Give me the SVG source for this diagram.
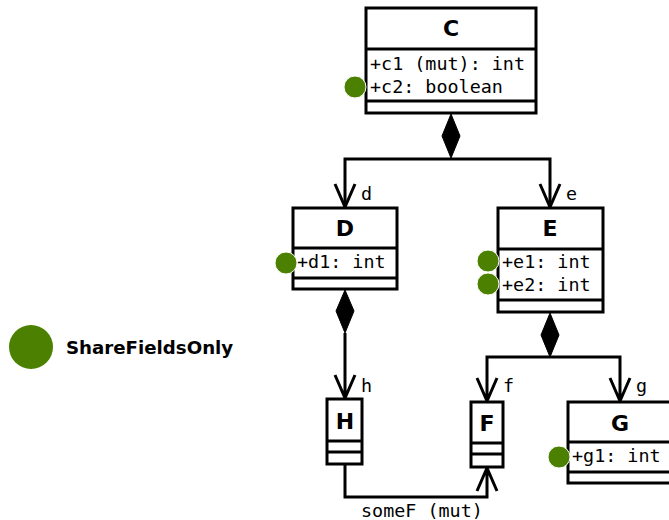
<svg xmlns="http://www.w3.org/2000/svg" width="669" height="520" viewBox="0 0 669 520">
<style>
.box{fill:#fff;stroke:#000;stroke-width:3}
.ln{fill:none;stroke:#000;stroke-width:3}
.dia{fill:#000;stroke:#000;stroke-width:1}
.nm{font-family:"DejaVu Sans",sans-serif;font-weight:bold;font-size:22px;text-anchor:middle}
.at{font-family:"DejaVu Sans Mono",monospace;font-size:18.4px}
.lb{font-family:"DejaVu Sans Mono",monospace;font-size:18.4px}
.dot{fill:#4b8000;stroke:#fff;stroke-width:1}
.leg{font-family:"DejaVu Sans",sans-serif;font-weight:bold;font-size:18.2px}
</style>
<rect width="669" height="520" fill="#fff"/>
<g id="connectors">
  <path class="dia" d="M451,114 L460,136 L451,158 L442,136 Z"/>
  <path class="ln" d="M451,158 V159 H345 V207 M451,159 H550 V207"/>
  <path class="ln" d="M335,184 L345,207 L355,184 M540,184 L550,207 L560,184"/>
  <text class="lb" x="361" y="200">d</text>
  <text class="lb" x="566" y="200">e</text>
  <path class="dia" d="M345,290 L354,311 L345,333 L336,311 Z"/>
  <path class="ln" d="M345,333 V398 M335,375 L345,398 L355,375"/>
  <text class="lb" x="361" y="392">h</text>
  <path class="dia" d="M550,313 L559,335 L550,357 L541,335 Z"/>
  <path class="ln" d="M550,357 H487 V401 M550,357 H620 V401 M477,378 L487,401 L497,378 M610,378 L620,401 L630,378"/>
  <text class="lb" x="503" y="392">f</text>
  <text class="lb" x="636" y="392">g</text>
  <path class="ln" d="M345,465 V497 H487 V468 M477,491 L487,468 L497,491"/>
  <text class="lb" x="361" y="517">someF (mut)</text>
</g>
<g id="C">
  <rect class="box" x="366" y="8" width="170" height="105"/>
  <path class="ln" d="M366,49 H536 M366,101 H536"/>
  <text class="nm" x="451" y="36">C</text>
  <text class="at" x="370" y="70">+c1 (mut): int</text>
  <text class="at" x="370" y="93">+c2: boolean</text>
  <circle class="dot" cx="355" cy="87" r="11"/>
</g>
<g id="D">
  <rect class="box" x="293" y="208" width="104" height="81"/>
  <path class="ln" d="M293,248 H397 M293,278 H397"/>
  <text class="nm" x="345" y="236">D</text>
  <text class="at" x="297" y="268">+d1: int</text>
  <circle class="dot" cx="286" cy="263" r="11"/>
</g>
<g id="E">
  <rect class="box" x="498" y="208" width="105" height="104"/>
  <path class="ln" d="M498,249 H603 M498,300 H603"/>
  <text class="nm" x="550" y="236">E</text>
  <text class="at" x="502" y="268">+e1: int</text>
  <text class="at" x="502" y="291">+e2: int</text>
  <circle class="dot" cx="488" cy="261" r="11"/>
  <circle class="dot" cx="488" cy="284" r="11"/>
</g>
<g id="H">
  <rect class="box" x="327" y="399" width="35" height="65"/>
  <path class="ln" d="M327,441 H362 M327,452 H362"/>
  <text class="nm" x="345" y="429">H</text>
</g>
<g id="F">
  <rect class="box" x="471" y="402" width="32" height="65"/>
  <path class="ln" d="M471,443 H503 M471,454 H503"/>
  <text class="nm" x="487" y="431">F</text>
</g>
<g id="G">
  <rect class="box" x="568" y="402" width="104" height="81"/>
  <path class="ln" d="M568,442 H672 M568,472 H672"/>
  <text class="nm" x="620" y="431">G</text>
  <text class="at" x="572" y="462">+g1: int</text>
  <circle class="dot" cx="559" cy="457" r="11"/>
</g>
<g id="legend">
  <circle cx="31" cy="347" r="22" fill="#4b8000"/>
  <text class="leg" x="66" y="354">ShareFieldsOnly</text>
</g>
</svg>
